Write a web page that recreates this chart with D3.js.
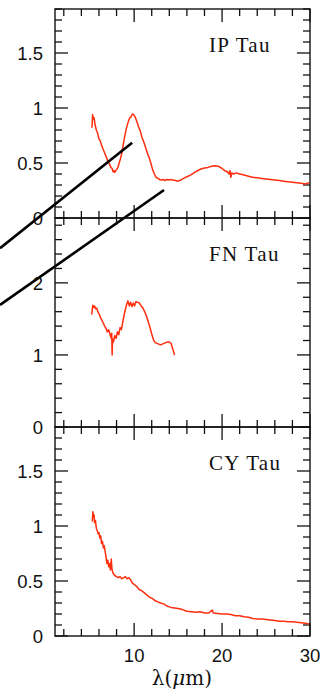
<!DOCTYPE html>
<html>
<head>
<meta charset="utf-8">
<script src="https://cdn.jsdelivr.net/npm/d3@7"></script>
<style>
  html, body { margin: 0; padding: 0; background: #fff; }
  svg { display: block; }
</style>
</head>
<body>
<svg id="chart" width="323" height="695"></svg>
<script>
// Wavelength (micron) / flux samples for each star's IRS spectrum
const ipTauLambda = [5.2,5.28,5.35,5.45,5.55,5.7,5.85,6.0,6.15,6.3,6.45,6.6,6.75,6.9,7.05,7.2,7.35,7.5,7.6,7.7,7.8,7.9,8.0,8.15,8.3,8.45,8.6,8.75,8.9,9.05,9.2,9.35,9.5,9.65,9.8,9.95,10.1,10.3,10.5,10.7,10.9,11.1,11.3,11.5,11.7,11.9,12.1,12.3,12.5,12.7,12.9,13.1,13.3,13.5,13.7,13.9,14.1,14.4,14.7,15.0,15.3,15.6,16.0,16.4,16.8,17.2,17.6,18.0,18.4,18.8,19.2,19.6,20.0,20.3,20.6,20.8,20.9,21.0,21.1,21.3,21.6,22.0,22.5,23.0,23.5,24.0,24.5,25.0,25.5,26.0,26.5,27.0,27.5,28.0,28.5,29.0,29.5,29.9];
const ipTauFlux   = [0.82,0.94,0.90,0.91,0.85,0.80,0.77,0.72,0.70,0.66,0.63,0.60,0.57,0.54,0.51,0.49,0.46,0.45,0.42,0.43,0.415,0.43,0.44,0.46,0.50,0.54,0.59,0.66,0.73,0.79,0.84,0.88,0.91,0.92,0.945,0.94,0.92,0.88,0.83,0.79,0.73,0.69,0.64,0.59,0.55,0.50,0.44,0.40,0.37,0.36,0.35,0.345,0.35,0.34,0.35,0.345,0.35,0.345,0.34,0.335,0.345,0.36,0.375,0.39,0.41,0.43,0.445,0.455,0.46,0.47,0.475,0.47,0.45,0.43,0.42,0.40,0.43,0.37,0.41,0.40,0.41,0.40,0.39,0.38,0.37,0.365,0.36,0.355,0.35,0.345,0.34,0.335,0.33,0.325,0.32,0.315,0.31,0.32];

const fnTauLambda = [5.17,5.3,5.4,5.5,5.6,5.75,5.9,6.05,6.2,6.35,6.5,6.65,6.8,6.95,7.1,7.25,7.35,7.45,7.5,7.55,7.65,7.8,7.95,8.1,8.25,8.4,8.55,8.7,8.85,9.0,9.15,9.3,9.45,9.6,9.75,9.9,10.05,10.2,10.4,10.6,10.8,11.0,11.2,11.4,11.6,11.8,12.0,12.2,12.4,12.6,12.8,13.0,13.2,13.4,13.6,13.8,14.0,14.2,14.4,14.6];
const fnTauFlux   = [1.56,1.69,1.66,1.68,1.64,1.65,1.59,1.56,1.51,1.48,1.44,1.40,1.37,1.32,1.35,1.29,1.24,1.30,1.00,1.22,1.18,1.27,1.23,1.32,1.28,1.38,1.35,1.45,1.55,1.63,1.70,1.75,1.68,1.73,1.67,1.72,1.68,1.74,1.73,1.72,1.68,1.65,1.60,1.54,1.46,1.38,1.29,1.21,1.17,1.16,1.15,1.14,1.15,1.16,1.17,1.18,1.18,1.16,1.08,1.00];

const cyTauLambda = [5.25,5.3,5.38,5.45,5.5,5.6,5.7,5.8,5.9,6.0,6.1,6.2,6.3,6.4,6.5,6.6,6.7,6.8,6.9,7.0,7.1,7.2,7.3,7.4,7.45,7.5,7.6,7.8,8.0,8.2,8.4,8.6,8.8,9.0,9.2,9.4,9.6,9.8,10.0,10.3,10.6,10.9,11.2,11.5,11.8,12.1,12.4,12.7,13.0,13.4,13.8,14.2,14.6,15.0,15.5,16.0,16.5,17.0,17.5,18.0,18.5,18.9,19.0,19.5,20.0,20.5,21.0,21.5,22.0,22.5,23.0,23.5,24.0,24.5,25.0,25.5,26.0,26.5,27.0,27.5,28.0,28.5,29.0,29.5,29.9];
const cyTauFlux   = [1.04,1.13,1.08,1.10,1.03,1.05,0.98,0.96,0.93,0.94,0.89,0.91,0.84,0.86,0.80,0.82,0.77,0.72,0.66,0.69,0.63,0.66,0.60,0.70,0.63,0.60,0.57,0.55,0.54,0.53,0.54,0.52,0.53,0.54,0.52,0.53,0.51,0.48,0.47,0.45,0.42,0.41,0.39,0.37,0.35,0.34,0.32,0.31,0.30,0.29,0.27,0.26,0.255,0.25,0.24,0.225,0.22,0.215,0.22,0.21,0.21,0.235,0.21,0.205,0.20,0.20,0.195,0.185,0.185,0.175,0.17,0.16,0.155,0.155,0.15,0.145,0.14,0.135,0.135,0.13,0.13,0.125,0.12,0.115,0.11];

// Panel names, y ranges and tick spacing
const panelNames   = ["IP Tau", "FN Tau", "CY Tau"];
const panelYMax    = [1.9, 2.9, 1.9];
const panelYMajor  = [[0, 0.5, 1, 1.5], [0, 1, 2], [0, 0.5, 1, 1.5]];
const panelYMinorStep = [0.1, 0.2, 0.1];
const panelLambda  = [ipTauLambda, fnTauLambda, cyTauLambda];
const panelFlux    = [ipTauFlux, fnTauFlux, cyTauFlux];

// Wavelength axis
const xDomain   = [1, 30];
const xMajor    = [10, 20, 30];
const xMinorStep = 2;

// Two straight guide segments drawn across the upper panels (in IP Tau data units)
const guideLines = [
  [[-5.25, -0.275], [9.77, 0.685]],
  [[-5.25, -0.79], [13.4, 0.255]]
];

const W = 323, H = 695;
const marginLeft = 55, marginRight = 310, marginTop = 9, panelH = 209;
const majorLen = 13, minorLen = 7;
const ink = "#111";
const spectrumColor = "#ff2e0e";

const svg = d3.select("#chart");
const x = d3.scaleLinear().domain(xDomain).range([marginLeft, marginRight]);

const fmt = v => (v === 0 ? "0" : d3.format("~g")(v));

panelNames.forEach((name, i) => {
  const y0 = marginTop + i * panelH;
  const y1 = y0 + panelH;
  const y = d3.scaleLinear().domain([0, panelYMax[i]]).range([y1, y0]);
  const g = svg.append("g");

  // frame
  g.append("rect")
    .attr("x", marginLeft).attr("y", y0)
    .attr("width", marginRight - marginLeft).attr("height", panelH)
    .attr("fill", "none").attr("stroke", ink).attr("stroke-width", 1.4);

  // y ticks (left and right, inward)
  const minorY = d3.range(0, panelYMax[i] + 1e-9, panelYMinorStep[i]);
  minorY.forEach(v => {
    const isMajor = panelYMajor[i].some(m => Math.abs(m - v) < 1e-6);
    const len = isMajor ? majorLen : minorLen;
    const yy = y(v);
    g.append("line").attr("x1", marginLeft).attr("x2", marginLeft + len)
      .attr("y1", yy).attr("y2", yy).attr("stroke", ink).attr("stroke-width", 1.3);
    g.append("line").attr("x1", marginRight).attr("x2", marginRight - len)
      .attr("y1", yy).attr("y2", yy).attr("stroke", ink).attr("stroke-width", 1.3);
  });

  // x ticks (top and bottom, inward)
  const minorX = d3.range(2, xDomain[1] + 1e-9, xMinorStep);
  minorX.forEach(v => {
    const isMajor = xMajor.includes(v);
    const len = isMajor ? majorLen : minorLen;
    const xx = x(v);
    g.append("line").attr("x1", xx).attr("x2", xx)
      .attr("y1", y1).attr("y2", y1 - len).attr("stroke", ink).attr("stroke-width", 1.3);
    g.append("line").attr("x1", xx).attr("x2", xx)
      .attr("y1", y0).attr("y2", y0 + len).attr("stroke", ink).attr("stroke-width", 1.3);
  });

  // y tick labels
  panelYMajor[i].forEach(v => {
    g.append("text")
      .attr("x", marginLeft - 12).attr("y", y(v))
      .attr("dy", "0.36em")
      .attr("text-anchor", "end")
      .attr("font-family", "Liberation Sans, Arial, sans-serif")
      .attr("font-size", 18.5)
      .attr("fill", ink)
      .text(fmt(v));
  });

  // star name
  g.append("text")
    .attr("x", 209).attr("y", y0 + 43)
    .attr("font-family", "Liberation Serif, serif")
    .attr("font-size", 21)
    .attr("letter-spacing", 1.3)
    .attr("fill", ink)
    .text(name);

  // spectrum
  const pts = panelLambda[i].map((l, k) => [l, panelFlux[i][k]]);
  g.append("path")
    .datum(pts)
    .attr("fill", "none")
    .attr("stroke", spectrumColor)
    .attr("stroke-width", 1.5)
    .attr("stroke-linejoin", "round")
    .attr("d", d3.line().x(d => x(d[0])).y(d => y(d[1])));

  // guide segments use the first panel's scale
  if (i === 0) {
    guideLines.forEach(seg => {
      svg.append("line")
        .attr("x1", x(seg[0][0])).attr("y1", y(seg[0][1]))
        .attr("x2", x(seg[1][0])).attr("y2", y(seg[1][1]))
        .attr("stroke", "#000").attr("stroke-width", 2.6);
    });
  }
});

// x tick labels under the bottom panel
const bottomY = marginTop + 3 * panelH;
xMajor.forEach(v => {
  svg.append("text")
    .attr("x", x(v)).attr("y", bottomY + 26)
    .attr("text-anchor", "middle")
    .attr("font-family", "Liberation Sans, Arial, sans-serif")
    .attr("font-size", 18.5)
    .attr("fill", ink)
    .text(v);
});

// x axis title
const title = svg.append("text")
  .attr("x", 182).attr("y", 685)
  .attr("text-anchor", "middle")
  .attr("font-family", "DejaVu Serif, serif")
  .attr("font-size", 20)
  .attr("fill", ink);
title.append("tspan").text("λ(");
title.append("tspan").attr("font-style", "italic").text("μ");
title.append("tspan").text("m)");
</script>
</body>
</html>
